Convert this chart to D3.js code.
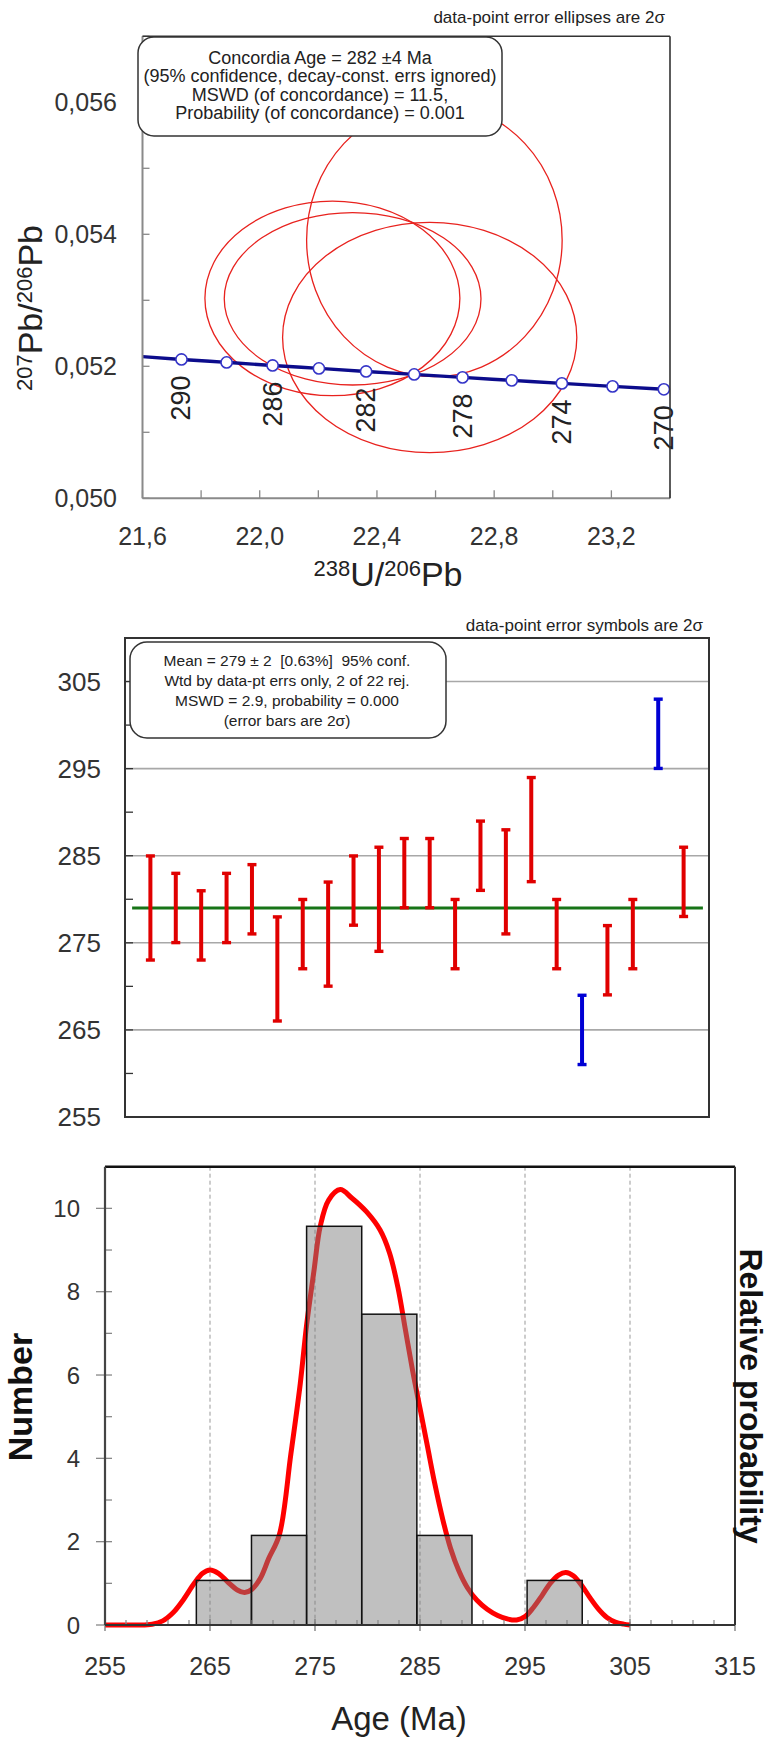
<!DOCTYPE html>
<html>
<head>
<meta charset="utf-8">
<script src="https://cdn.jsdelivr.net/npm/d3@7"></script>
<style>
  body { margin: 0; background: #fff; }
  svg { display: block; font-family: "Liberation Sans", Arial, sans-serif; }
  .pre { white-space: pre; }
</style>
</head>
<body>
<div id="chart"></div>
<script>
// ---------- panel 1: Tera-Wasserburg concordia ----------
const concAges = [290, 288, 286, 284, 282, 280, 278, 276, 274, 272, 270];
const concU = [21.733, 21.887, 22.044, 22.202, 22.363, 22.527, 22.692, 22.860, 23.031, 23.204, 23.379];
const concPb = [0.052104, 0.052059, 0.052013, 0.051968, 0.051922, 0.051877, 0.051832, 0.051787, 0.051741, 0.051696, 0.051651];
const concStart = [21.6, 0.052146];
const concLabelAges = [290, 286, 282, 278, 274, 270];

// error ellipses (centre and 2 sigma half-widths)
const ellU = [22.596, 22.248, 22.317, 22.580];
const ellPb = [0.053914, 0.053030, 0.053023, 0.052436];
const ellSU = [0.436, 0.435, 0.438, 0.502];
const ellSPb = [0.002071, 0.001474, 0.001306, 0.001745];

const concXTicks = [21.6, 21.8, 22.0, 22.2, 22.4, 22.6, 22.8, 23.0, 23.2, 23.4];
const concXLabels = [21.6, 22.0, 22.4, 22.8, 23.2];
const concYTicks = [0.050, 0.051, 0.052, 0.053, 0.054, 0.055, 0.056, 0.057];
const concYLabels = [0.050, 0.052, 0.054, 0.056];
const concBoxLines = [
  "Concordia Age = 282 \u00b14 Ma",
  "(95% confidence, decay-const. errs ignored)",
  "MSWD (of concordance) = 11.5,",
  "Probability (of concordance) = 0.001"
];

// ---------- panel 2: weighted mean ----------
const wmLow  = [273, 275, 273, 275, 276, 266, 272, 270, 277, 274, 279, 279, 272, 281, 276, 282, 272, 261, 269, 272, 295, 278];
const wmHigh = [285, 283, 281, 283, 284, 278, 280, 282, 285, 286, 287, 287, 280, 289, 288, 294, 280, 269, 277, 280, 303, 286];
const wmRejected = [18, 21];
const wmMean = 279;
const wmMeanSpan = [0.28, 22.76];
const wmGrid = [265, 275, 285, 295, 305];
const wmTicks = [255, 260, 265, 270, 275, 280, 285, 290, 295, 300, 305, 310];
const wmLabels = [255, 265, 275, 285, 295, 305];
const wmBoxLines = [
  "Mean = 279 \u00b1 2  [0.63%]  95% conf.",
  "Wtd by data-pt errs only, 2 of 22 rej.",
  "MSWD = 2.9, probability = 0.000",
  "(error bars are 2\u03c3)"
];

// ---------- panel 3: histogram + probability density ----------
const binEdges = [263.7, 268.95, 274.2, 279.45, 284.7, 289.95, 295.2, 300.45];
const binHeights = [1.07, 2.15, 9.57, 7.46, 2.15, 0, 1.07];
const probAges = [255, 258, 259.5, 260.5, 261.5, 262.5, 263.5, 264.3, 265.0, 265.8, 266.7, 267.6, 268.3,
  269.0, 269.8, 270.6, 271.6, 272.7, 273.6, 274.2, 274.9, 275.5, 276.3, 277.4, 278.5, 279.9, 281.2,
  282.1, 282.9, 283.6, 284.3, 285.0, 285.7, 286.4, 287.2, 287.9, 288.7, 289.5, 290.4, 291.4, 292.4,
  293.4, 294.2, 295.0, 295.8, 296.6, 297.4, 298.2, 298.9, 299.6, 300.4, 301.2, 302.0, 302.8, 303.6,
  304.4, 305.0];
const probValues = [0, 0, 0.02, 0.1, 0.3, 0.62, 1.0, 1.24, 1.32, 1.24, 1.03, 0.84, 0.78,
  0.86, 1.12, 1.6, 2.16, 4.1, 5.8, 7.2, 8.5, 9.57, 10.2, 10.45, 10.25, 9.92, 9.48,
  8.93, 8.1, 7.1, 6.1, 5.2, 4.3, 3.4, 2.5, 1.85, 1.3, 0.9, 0.6, 0.38, 0.23,
  0.14, 0.12, 0.2, 0.42, 0.7, 1.0, 1.2, 1.26, 1.18, 0.95, 0.65, 0.38, 0.18, 0.07,
  0.02, 0];
const histXTicks = [255, 265, 275, 285, 295, 305, 315];
const histXMinor = [257, 259, 261, 263, 267, 269, 271, 273, 277, 279, 281, 283, 287, 289, 291, 293,
  297, 299, 301, 303, 307, 309, 311, 313];
const histGrid = [265, 275, 285, 295, 305];
const histYTicks = [0, 1, 2, 3, 4, 5, 6, 7, 8, 9, 10, 11];
const histYLabels = [0, 2, 4, 6, 8, 10];

const W = 771, H = 1742;
const labelColor = "#333";

const svg = d3.select("#chart").append("svg")
  .attr("width", W)
  .attr("height", H);

const commaFmt = d3.formatLocale({ decimal: ",", thousands: ".", grouping: [3], currency: ["", ""] });
const fmt3 = commaFmt.format(".3f");
const fmt1 = commaFmt.format(".1f");

// ======================= PANEL 1 =======================
const x1 = d3.scaleLinear().domain([21.6, 23.4]).range([142.5, 670]);
const y1 = d3.scaleLinear().domain([0.050, 0.057]).range([498.3, 36.3]);
const p1 = svg.append("g");

p1.append("text")
  .attr("x", 665).attr("y", 23)
  .attr("text-anchor", "end")
  .attr("font-size", 17)
  .attr("fill", "#222")
  .text("data-point error ellipses are 2\u03c3");

// ticks (inside)
p1.append("g").selectAll("line").data(concXTicks).join("line")
  .attr("x1", d => x1(d)).attr("x2", d => x1(d))
  .attr("y1", y1(0.050)).attr("y2", y1(0.050) - 8)
  .attr("stroke", "#888").attr("stroke-width", 1.3);
p1.append("g").selectAll("line").data(concYTicks).join("line")
  .attr("x1", x1(21.6)).attr("x2", x1(21.6) + 7)
  .attr("y1", d => y1(d)).attr("y2", d => y1(d))
  .attr("stroke", "#888").attr("stroke-width", 1.3);

// ellipses
p1.append("g").selectAll("ellipse")
  .data(ellU.map((u, i) => ({ u, pb: ellPb[i], su: ellSU[i], spb: ellSPb[i] })))
  .join("ellipse")
  .attr("cx", d => x1(d.u))
  .attr("cy", d => y1(d.pb))
  .attr("rx", d => x1(d.u + d.su) - x1(d.u))
  .attr("ry", d => y1(d.pb) - y1(d.pb + d.spb))
  .attr("fill", "none")
  .attr("stroke", "#e8221e")
  .attr("stroke-width", 1.3);

// concordia curve
const concPts = [concStart].concat(concU.map((u, i) => [u, concPb[i]]));
p1.append("path")
  .attr("d", d3.line().x(d => x1(d[0])).y(d => y1(d[1])).curve(d3.curveMonotoneX)(concPts))
  .attr("fill", "none")
  .attr("stroke", "#0c0c8c")
  .attr("stroke-width", 3.4);

p1.append("g").selectAll("circle").data(concAges).join("circle")
  .attr("cx", (d, i) => x1(concU[i]))
  .attr("cy", (d, i) => y1(concPb[i]))
  .attr("r", 5.6)
  .attr("fill", "#fff")
  .attr("stroke", "#3535c8")
  .attr("stroke-width", 1.6);

p1.append("g").selectAll("text").data(concLabelAges).join("text")
  .attr("transform", d => {
    const i = concAges.indexOf(d);
    return `translate(${x1(concU[i])},${y1(concPb[i]) + 16}) rotate(-90)`;
  })
  .attr("text-anchor", "end")
  .attr("dominant-baseline", "central")
  .attr("font-size", 27)
  .attr("fill", "#222")
  .text(d => d);

// frame
p1.append("line").attr("x1", x1(21.6)).attr("x2", x1(21.6)).attr("y1", y1(0.057)).attr("y2", y1(0.050))
  .attr("stroke", "#8a8a8a").attr("stroke-width", 2);
p1.append("line").attr("x1", x1(21.6)).attr("x2", x1(23.4)).attr("y1", y1(0.050)).attr("y2", y1(0.050))
  .attr("stroke", "#8a8a8a").attr("stroke-width", 2);
p1.append("line").attr("x1", x1(21.6)).attr("x2", x1(23.4)).attr("y1", y1(0.057)).attr("y2", y1(0.057))
  .attr("stroke", "#333").attr("stroke-width", 1.6);
p1.append("line").attr("x1", x1(23.4)).attr("x2", x1(23.4)).attr("y1", y1(0.057)).attr("y2", y1(0.050))
  .attr("stroke", "#333").attr("stroke-width", 1.6);

// info box
p1.append("rect")
  .attr("x", 138).attr("y", 37).attr("width", 364).attr("height", 99)
  .attr("rx", 16)
  .attr("fill", "#fff").attr("stroke", "#333").attr("stroke-width", 1.5);
p1.append("g").selectAll("text").data(concBoxLines).join("text")
  .attr("x", 320)
  .attr("y", (d, i) => 64 + i * 18.4)
  .attr("text-anchor", "middle")
  .attr("font-size", 18)
  .attr("fill", "#222")
  .text(d => d);

// tick labels
p1.append("g").selectAll("text").data(concXLabels).join("text")
  .attr("x", d => x1(d)).attr("y", 545)
  .attr("text-anchor", "middle")
  .attr("font-size", 25)
  .attr("fill", labelColor)
  .text(d => fmt1(d));
p1.append("g").selectAll("text").data(concYLabels).join("text")
  .attr("x", 117).attr("y", d => y1(d))
  .attr("text-anchor", "end")
  .attr("dominant-baseline", "central")
  .attr("font-size", 25)
  .attr("fill", labelColor)
  .text(d => fmt3(d));

// axis titles with superscripts
function isoTitle(sel, parts) {
  parts.forEach(p => {
    sel.append("tspan")
      .attr("font-size", p.sup ? 22 : 34)
      .attr("dy", p.dy)
      .text(p.t);
  });
}
const xt = p1.append("text")
  .attr("x", 388).attr("y", 586)
  .attr("text-anchor", "middle")
  .attr("fill", "#222");
isoTitle(xt, [
  { t: "238", sup: true, dy: -10 }, { t: "U/", dy: 10 },
  { t: "206", sup: true, dy: -10 }, { t: "Pb", dy: 10 }
]);
const yt = p1.append("text")
  .attr("transform", "translate(42,308) rotate(-90)")
  .attr("text-anchor", "middle")
  .attr("fill", "#222");
isoTitle(yt, [
  { t: "207", sup: true, dy: -10 }, { t: "Pb/", dy: 10 },
  { t: "206", sup: true, dy: -10 }, { t: "Pb", dy: 10 }
]);

// ======================= PANEL 2 =======================
const x2 = d3.scaleLinear().domain([0, 23]).range([125, 709]);
const y2 = d3.scaleLinear().domain([255, 310]).range([1117, 638]);
const p2 = svg.append("g");

p2.append("text")
  .attr("x", 703).attr("y", 631)
  .attr("text-anchor", "end")
  .attr("font-size", 17)
  .attr("fill", "#222")
  .text("data-point error symbols are 2\u03c3");

p2.append("g").selectAll("line").data(wmGrid).join("line")
  .attr("x1", x2(0)).attr("x2", x2(23))
  .attr("y1", d => y2(d)).attr("y2", d => y2(d))
  .attr("stroke", "#a8a8a8").attr("stroke-width", 1.6);
p2.append("g").selectAll("line").data(wmTicks).join("line")
  .attr("x1", x2(0)).attr("x2", x2(0) + 8)
  .attr("y1", d => y2(d)).attr("y2", d => y2(d))
  .attr("stroke", "#333").attr("stroke-width", 1.3);

p2.append("line")
  .attr("x1", x2(wmMeanSpan[0])).attr("x2", x2(wmMeanSpan[1]))
  .attr("y1", y2(wmMean)).attr("y2", y2(wmMean))
  .attr("stroke", "#177417").attr("stroke-width", 3);

const bars = wmLow.map((lo, i) => ({ i: i + 1, lo, hi: wmHigh[i], rej: wmRejected.includes(i + 1) }));
const barG = p2.append("g").selectAll("g").data(bars).join("g")
  .attr("fill", d => d.rej ? "#0000d4" : "#e00000")
  .attr("stroke", "none");
barG.append("rect")
  .attr("x", d => x2(d.i) - 2).attr("width", 4)
  .attr("y", d => y2(d.hi)).attr("height", d => y2(d.lo) - y2(d.hi));
barG.append("rect")
  .attr("x", d => x2(d.i) - 4.5).attr("width", 9)
  .attr("y", d => y2(d.hi) - 1.5).attr("height", 3.4);
barG.append("rect")
  .attr("x", d => x2(d.i) - 4.5).attr("width", 9)
  .attr("y", d => y2(d.lo) - 1.9).attr("height", 3.4);

p2.append("rect")
  .attr("x", x2(0)).attr("y", y2(310))
  .attr("width", x2(23) - x2(0)).attr("height", y2(255) - y2(310))
  .attr("fill", "none").attr("stroke", "#333").attr("stroke-width", 2);

p2.append("rect")
  .attr("x", 130).attr("y", 642).attr("width", 316).attr("height", 96)
  .attr("rx", 17)
  .attr("fill", "#fff").attr("stroke", "#333").attr("stroke-width", 1.5);
p2.append("g").selectAll("text").data(wmBoxLines).join("text")
  .attr("class", "pre")
  .attr("x", 287)
  .attr("y", (d, i) => 666 + i * 20)
  .attr("text-anchor", "middle")
  .attr("font-size", 15.5)
  .attr("fill", "#222")
  .text(d => d);

p2.append("g").selectAll("text").data(wmLabels).join("text")
  .attr("x", 101).attr("y", d => y2(d))
  .attr("text-anchor", "end")
  .attr("dominant-baseline", "central")
  .attr("font-size", 26)
  .attr("fill", labelColor)
  .text(d => d);

// ======================= PANEL 3 =======================
const x3 = d3.scaleLinear().domain([255, 315]).range([105, 735]);
const y3 = d3.scaleLinear().domain([0, 11]).range([1625, 1166.7]);
const p3 = svg.append("g");

p3.append("g").selectAll("line").data(histGrid).join("line")
  .attr("x1", d => x3(d)).attr("x2", d => x3(d))
  .attr("y1", y3(11)).attr("y2", y3(0))
  .attr("stroke", "#999").attr("stroke-width", 1)
  .attr("stroke-dasharray", "4,3");

// probability curve (drawn under the translucent bars)
p3.append("path")
  .attr("d", d3.line().x((d, i) => x3(probAges[i])).y(d => y3(d)).curve(d3.curveCatmullRom.alpha(0.5))(probValues))
  .attr("fill", "none")
  .attr("stroke", "#ff0000")
  .attr("stroke-width", 5)
  .attr("stroke-linejoin", "round");

const bins = binHeights.map((h, i) => ({ x0: binEdges[i], x1: binEdges[i + 1], h })).filter(d => d.h > 0);
p3.append("g").selectAll("rect").data(bins).join("rect")
  .attr("x", d => x3(d.x0))
  .attr("width", d => x3(d.x1) - x3(d.x0))
  .attr("y", d => y3(d.h))
  .attr("height", d => y3(0) - y3(d.h))
  .attr("fill", "rgb(124,124,124)")
  .attr("fill-opacity", 0.48)
  .attr("stroke", "#111")
  .attr("stroke-width", 1.5);

// ticks
p3.append("g").selectAll("line").data(histXMinor).join("line")
  .attr("x1", d => x3(d)).attr("x2", d => x3(d))
  .attr("y1", y3(0)).attr("y2", y3(0) - 5)
  .attr("stroke", "#888").attr("stroke-width", 1.2);
p3.append("g").selectAll("line").data(histXTicks).join("line")
  .attr("x1", d => x3(d)).attr("x2", d => x3(d))
  .attr("y1", y3(0) - 6).attr("y2", y3(0) + 6)
  .attr("stroke", "#777").attr("stroke-width", 1.3);
p3.append("g").selectAll("line").data(histYTicks).join("line")
  .attr("x1", d => d % 2 === 0 ? x3(255) - 9 : x3(255))
  .attr("x2", x3(255) + 7)
  .attr("y1", d => y3(d)).attr("y2", d => y3(d))
  .attr("stroke", "#888").attr("stroke-width", 1.3);

// frame
p3.append("line").attr("x1", x3(255)).attr("x2", x3(315)).attr("y1", y3(11)).attr("y2", y3(11))
  .attr("stroke", "#111").attr("stroke-width", 2.6);
p3.append("line").attr("x1", x3(315)).attr("x2", x3(315)).attr("y1", y3(11)).attr("y2", y3(0))
  .attr("stroke", "#333").attr("stroke-width", 2);
p3.append("line").attr("x1", x3(255)).attr("x2", x3(255)).attr("y1", y3(11)).attr("y2", y3(0))
  .attr("stroke", "#444").attr("stroke-width", 2.2);
p3.append("line").attr("x1", x3(255)).attr("x2", x3(315)).attr("y1", y3(0)).attr("y2", y3(0))
  .attr("stroke", "#333").attr("stroke-width", 2.2);

// labels
p3.append("g").selectAll("text").data(histXTicks).join("text")
  .attr("x", d => x3(d)).attr("y", 1675)
  .attr("text-anchor", "middle")
  .attr("font-size", 25)
  .attr("fill", labelColor)
  .text(d => d);
p3.append("g").selectAll("text").data(histYLabels).join("text")
  .attr("x", 80).attr("y", d => y3(d))
  .attr("text-anchor", "end")
  .attr("dominant-baseline", "central")
  .attr("font-size", 24)
  .attr("fill", labelColor)
  .text(d => d);

p3.append("text")
  .attr("x", 399).attr("y", 1730)
  .attr("text-anchor", "middle")
  .attr("font-size", 33)
  .attr("fill", "#222")
  .text("Age (Ma)");
p3.append("text")
  .attr("transform", "translate(32,1397) rotate(-90)")
  .attr("text-anchor", "middle")
  .attr("font-size", 34)
  .attr("font-weight", "bold")
  .attr("fill", "#111")
  .text("Number");
p3.append("text")
  .attr("transform", "translate(740,1396) rotate(90)")
  .attr("text-anchor", "middle")
  .attr("font-size", 32)
  .attr("font-weight", "bold")
  .attr("fill", "#111")
  .text("Relative probability");
</script>
</body>
</html>
